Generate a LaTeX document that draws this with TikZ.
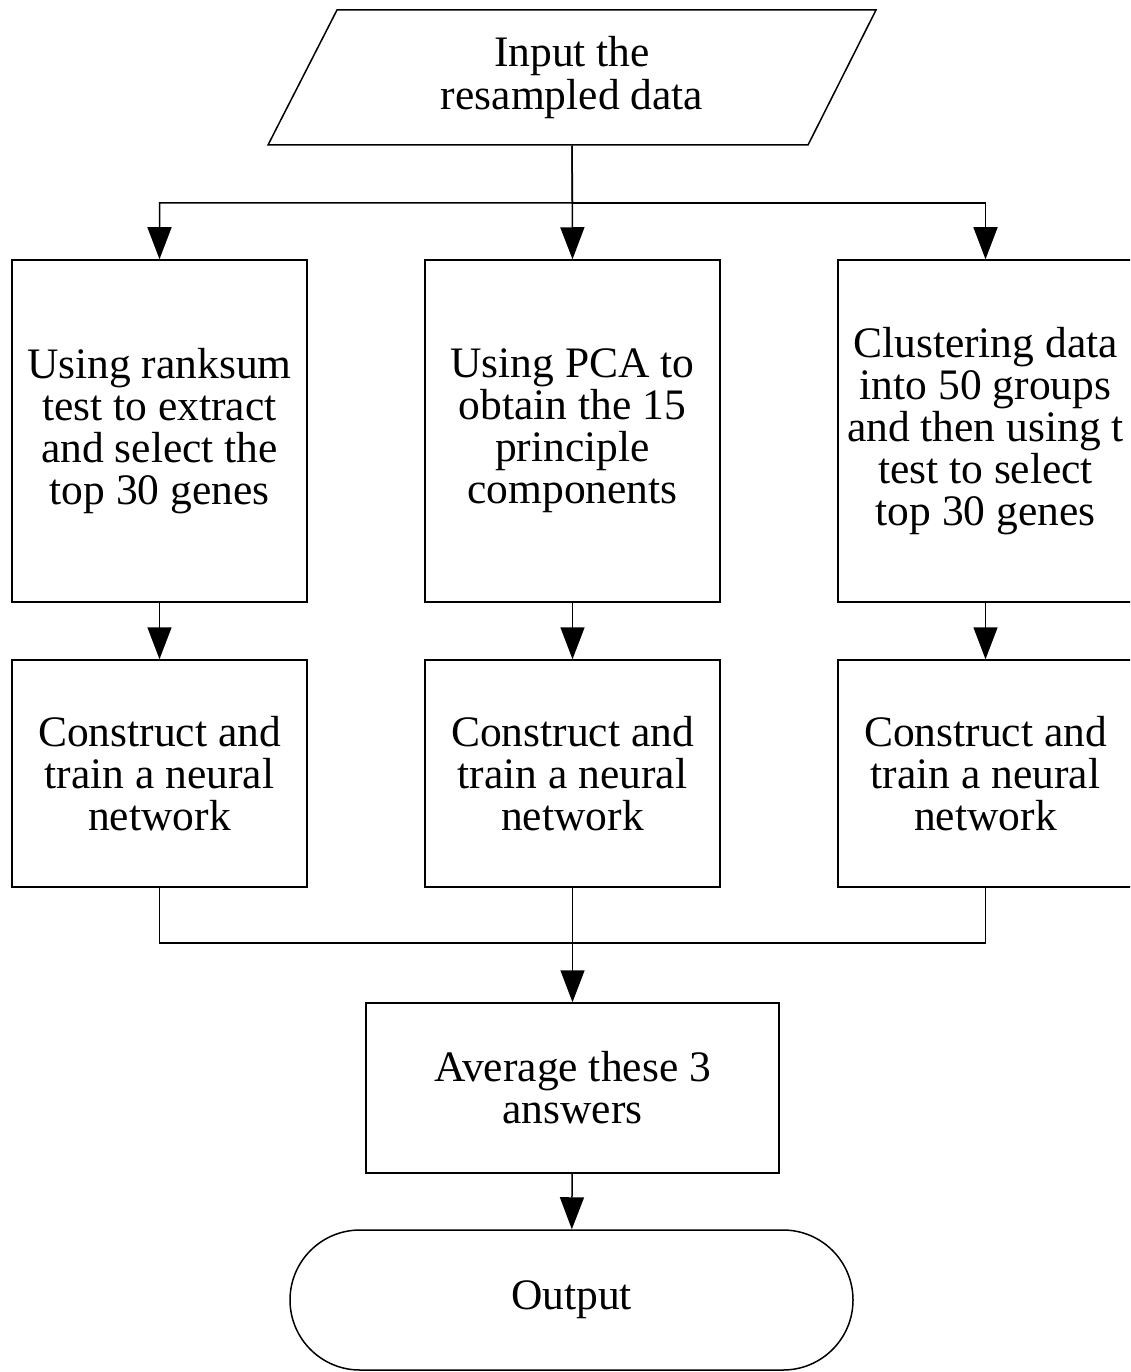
\documentclass[tikz,border=0pt]{standalone}
\usepackage{fontspec}
\setmainfont{Liberation Serif}
\usetikzlibrary{arrows.meta}
\begin{document}
\begin{tikzpicture}[x=1pt,y=-1pt, line width=1.5pt,
  box/.style={draw, minimum width=295pt, align=center, inner sep=0pt, font=\fontsize{43.5}{42}\selectfont},
  plain/.style={align=center, inner sep=0pt, font=\fontsize{43.5}{43}\selectfont},
  arr/.style={-{Triangle[length=32pt,width=24pt]}}]
\clip (0,0) rectangle (1130,1372);
\fill[white] (0,0) rectangle (1130,1372);
% input parallelogram
\node[plain, minimum width=540pt, minimum height=135pt] (in) at (572,77.5) {Input the\\resampled data};
\draw (337,10) -- (876,10) -- (808,145) -- (268,145) -- cycle;
% first row
\node[box, minimum height=342pt] (a1) at (159.5,431) {Using ranksum\\test to extract\\and select the\\top 30 genes};
\node[box, minimum height=342pt] (a2) at (572.5,431) {Using PCA to\\obtain the 15\\principle\\components};
\node[box, minimum height=342pt] (a3) at (985.5,431) {Clustering data\\into 50 groups\\and then using t\\test to select\\top 30 genes};
% second row
\node[box, minimum height=227pt] (b1) at (159.5,773.5) {Construct and\\train a neural\\network};
\node[box, minimum height=227pt] (b2) at (572.5,773.5) {Construct and\\train a neural\\network};
\node[box, minimum height=227pt] (b3) at (985.5,773.5) {Construct and\\train a neural\\network};
% average
\node[box, minimum width=413pt, minimum height=170pt] (c) at (572.5,1088) {Average these 3\\answers};
% output
\node[draw, plain, minimum width=563pt, minimum height=140pt, rounded corners=70pt] (o) at (571.5,1300) {Output};
% connectors
\coordinate (j1) at (572.5,203);
\coordinate (j2) at (572.5,943);
\draw[arr] (in.south) -- (a2.north);
\draw[arr] (in.south) -- (j1) -| (a1.north);
\draw[arr] (j1) -| (a3.north);
\draw[arr] (a1) -- (b1);
\draw[arr] (a2) -- (b2);
\draw[arr] (a3) -- (b3);
\draw (b1.south) -- (b1.south |- j2) -- (b3.south |- j2) -- (b3.south);
\draw[arr] (b2.south) -- (c.north);
\draw[arr] (c) -- (o);
\end{tikzpicture}
\end{document}
